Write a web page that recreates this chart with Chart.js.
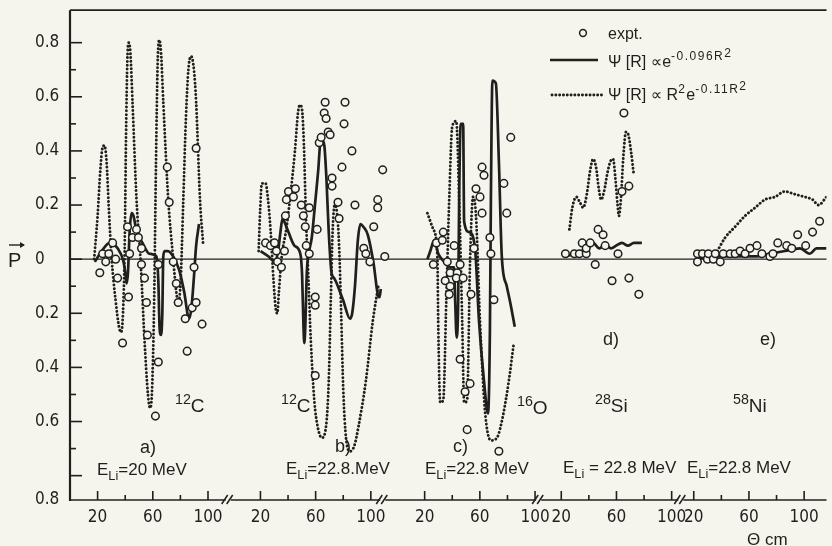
<!DOCTYPE html>
<html><head><meta charset="utf-8">
<script src="https://cdn.jsdelivr.net/npm/chart.js@4/dist/chart.umd.min.js"></script>
<style>html,body{margin:0;padding:0;background:#f5f5ee;}canvas{display:block;}</style>
</head><body>
<canvas id="c" width="832" height="546"></canvas>
<script>
// ---------- data (theta in degrees c.m., polarisation P) ----------
const panelOffsets = [0, 118, 237, 336, 432];      // panel a..e placed side by side on one axis
const breakPositions = [115, 227, 340, 443];       // axis breaks "//"
const xTickThetas = [20, 60, 100];
const xTickLabels = ['20', '60', '100'];
const xMinorThetas = [40, 80];
const yTickValues = [0.8, 0.6, 0.4, 0.2, 0, -0.2, -0.4, -0.6, -0.89];
const yTickLabels = ['0.8', '0.6', '0.4', '0.2', '0', '0.2', '0.4', '0.6', '0.8'];
const yMarkValues = [0.8, 0.7, 0.6, 0.5, 0.4, 0.3, 0.2, 0.1, 0, -0.1, -0.2, -0.3, -0.4, -0.5, -0.6, -0.7, -0.8];

// a) 12C, E = 20 MeV
const aExpt = [[21.6,-0.05],[23.7,0.02],[25.9,-0.01],[28.1,0.02],[30.9,0.06],[33.1,0.00],[34.5,-0.07],[38.1,-0.31],[41.7,0.12],[43.2,0.02],[42.4,-0.14],[45.3,0.08],[48.2,0.11],[49.6,0.08],[51.8,0.04],[51.8,-0.02],[54.0,-0.07],[55.4,-0.16],[56.1,-0.28],[61.9,-0.58],[64.0,-0.38],[64.0,-0.02],[70.5,0.34],[71.9,0.21],[74.8,-0.01],[77.0,-0.09],[78.4,-0.16],[83.5,-0.22],[84.9,-0.34],[88.5,-0.18],[89.9,-0.03],[91.4,0.41],[91.4,-0.16],[95.7,-0.24]];
const aSolid = [[18.0,-0.01],[23.0,0.03],[28.8,0.06],[34.5,0.04],[38.8,-0.01],[40.3,-0.06],[41.0,-0.09],[42.0,-0.05],[43.2,0.10],[44.6,0.17],[46.0,0.16],[48.0,0.11],[52.5,0.06],[57.6,0.02],[62.6,0.01],[64.0,-0.08],[64.9,-0.25],[65.9,-0.28],[66.9,-0.20],[67.6,0.01],[68.6,0.03],[71.0,0.03],[74.8,0.01],[79.1,-0.04],[82.7,-0.12],[86.3,-0.22],[88.0,-0.18],[89.9,-0.06],[91.4,0.05],[93.5,0.13]];
const aDotted = [[17.5,0.0],[20.0,0.16],[22.0,0.33],[23.5,0.41],[25.0,0.42],[26.5,0.36],[28.0,0.20],[30.2,0.0],[33.0,-0.15],[35.5,-0.25],[37.0,-0.27],[38.4,-0.20],[39.6,0.03],[40.6,0.45],[41.6,0.74],[42.6,0.80],[43.8,0.76],[45.3,0.58],[48.2,0.22],[51.1,0.0],[54.0,-0.30],[56.5,-0.50],[58.0,-0.55],[59.5,-0.48],[61.0,-0.15],[62.3,0.35],[63.5,0.72],[64.7,0.81],[66.0,0.76],[67.6,0.58],[71.2,0.22],[74.8,0.0],[77.0,-0.12],[78.6,-0.16],[80.2,-0.08],[82.0,0.20],[84.0,0.52],[85.8,0.70],[87.8,0.75],[89.8,0.70],[91.4,0.58],[94.2,0.22],[96.4,0.06]];

// b) 12C, E = 22.8 MeV
const bExpt = [[23.7,0.06],[27.3,0.05],[30.2,0.06],[31.6,0.03],[32.4,-0.01],[35.2,-0.03],[37.4,0.03],[38.1,0.16],[38.8,0.22],[40.3,0.25],[43.9,0.23],[45.3,0.26],[49.6,0.20],[51.1,0.16],[52.5,0.12],[53.2,0.05],[55.4,0.19],[55.4,0.02],[59.7,-0.14],[59.7,-0.17],[61.1,0.11],[59.7,-0.43],[62.6,0.43],[64.0,0.45],[66.9,0.58],[66.2,0.54],[67.6,0.52],[69.1,0.47],[70.5,0.46],[71.9,0.30],[71.9,0.27],[76.2,0.21],[77.0,0.15],[81.3,0.58],[80.6,0.50],[86.3,0.40],[79.1,0.34],[88.5,0.20],[94.9,0.04],[96.4,0.02],[99.3,-0.01],[102.1,0.12],[105.0,0.22],[105.0,0.19],[108.6,0.33],[110.1,0.01]];
const bSolid = [[20.1,0.03],[25.9,0.01],[30.5,-0.01],[32.8,0.03],[34.5,0.10],[36.0,0.15],[38.0,0.13],[40.3,0.10],[44.6,0.05],[48.9,0.02],[50.2,-0.06],[51.2,-0.25],[51.8,-0.31],[52.5,-0.25],[53.6,-0.05],[55.0,0.02],[57.2,0.08],[59.5,0.20],[61.9,0.33],[63.4,0.43],[64.8,0.44],[66.3,0.42],[67.8,0.30],[69.5,0.10],[71.5,-0.05],[73.4,-0.07],[79.8,-0.15],[84.9,-0.22],[86.5,-0.20],[88.5,-0.10],[90.6,0.07],[92.5,0.13],[94.5,0.12],[97.8,0.09],[102.1,-0.02],[105.0,-0.13],[106.3,-0.14],[107.2,-0.11]];
const bDotted = [[18.7,0.03],[19.8,0.18],[21.0,0.28],[23.7,0.28],[25.5,0.22],[27.3,0.11],[29.5,-0.08],[31.0,-0.18],[32.2,-0.20],[33.4,-0.12],[35.2,0.0],[39.0,0.12],[42.0,0.25],[45.0,0.40],[47.2,0.54],[48.7,0.57],[50.2,0.55],[51.5,0.42],[53.0,0.15],[54.6,-0.05],[56.5,-0.30],[59.0,-0.52],[61.5,-0.62],[64.5,-0.66],[67.5,-0.62],[69.5,-0.45],[71.0,-0.15],[72.3,0.10],[73.8,0.20],[75.5,0.17],[77.0,0.05],[78.5,-0.20],[80.0,-0.48],[82.0,-0.66],[85.0,-0.71],[88.0,-0.69],[91.0,-0.62],[96.4,-0.45],[101.4,-0.23],[105.7,-0.09]];

// c) 16O, E = 22.8 MeV
const cExpt = [[26.3,-0.02],[28.5,0.06],[33.5,0.10],[32.8,0.07],[36.4,-0.01],[34.9,-0.08],[38.5,-0.05],[38.5,-0.10],[37.8,-0.13],[41.4,0.05],[43.6,-0.05],[42.9,-0.07],[45.7,-0.02],[47.9,-0.07],[45.7,-0.37],[49.3,-0.49],[52.9,-0.46],[53.6,-0.13],[50.8,-0.63],[55.8,0.04],[57.2,0.26],[60.1,0.23],[61.6,0.17],[61.6,0.34],[63.0,0.31],[67.3,0.08],[68.0,0.02],[70.2,-0.15],[73.8,-0.71],[77.4,0.28],[79.5,0.17],[82.4,0.45]];
const cSolid = [[22.0,0.0],[24.1,0.03],[27.0,0.07],[29.9,0.02],[34.2,-0.01],[38.5,-0.03],[41.4,-0.03],[42.1,-0.15],[43.2,-0.29],[44.3,-0.15],[45.0,0.22],[46.1,0.50],[47.9,0.50],[48.6,0.14],[52.2,0.10],[56.5,0.04],[59.4,-0.23],[63.0,-0.45],[65.9,-0.57],[67.3,-0.26],[68.0,0.22],[69.1,0.66],[71.6,0.65],[73.8,0.36],[75.9,0.01],[79.5,-0.10],[82.4,-0.17],[85.3,-0.25]];
const cDotted = [[22.0,0.17],[26.3,0.11],[29.2,0.01],[29.9,-0.26],[31.3,-0.53],[33.5,-0.52],[35.7,-0.15],[37.8,0.22],[40.0,0.49],[42.9,0.51],[45.0,0.22],[47.2,-0.23],[48.6,-0.53],[50.8,-0.52],[52.9,-0.01],[55.1,0.23],[57.2,0.16],[60.1,-0.23],[63.7,-0.56],[68.0,-0.67],[72.4,-0.66],[76.7,-0.58],[81.0,-0.45],[84.6,-0.31]];

// d) 28Si, E = 22.8 MeV
const dExpt = [[23.0,0.02],[29.5,0.02],[33.1,0.02],[35.2,0.06],[38.1,0.02],[38.1,0.04],[41.0,0.06],[44.6,-0.02],[46.7,0.11],[50.3,0.09],[51.8,0.05],[61.1,0.02],[56.8,-0.08],[64.0,0.25],[69.0,0.27],[69.0,-0.07],[76.2,-0.13],[65.4,0.54]];
const dSolid = [[23.7,0.01],[29.5,0.02],[34.5,0.03],[39.5,0.04],[43.1,0.06],[47.5,0.04],[51.8,0.05],[56.1,0.04],[59.7,0.05],[64.0,0.06],[68.3,0.05],[72.6,0.06],[78.4,0.06]];
const dDotted = [[25.9,0.11],[28.0,0.19],[30.9,0.23],[33.5,0.21],[35.9,0.19],[38.5,0.24],[41.0,0.33],[43.1,0.37],[45.2,0.34],[47.2,0.26],[48.9,0.22],[51.0,0.25],[53.5,0.32],[55.5,0.36],[57.5,0.37],[59.2,0.30],[60.8,0.20],[61.8,0.16],[63.2,0.22],[65.0,0.38],[66.9,0.47],[68.6,0.46],[70.5,0.40],[72.6,0.31]];

// e) 58Ni, E = 22.8 MeV
const eExpt = [[22.7,0.02],[22.7,-0.01],[26.3,0.02],[29.9,0.00],[30.6,0.02],[34.2,0.00],[35.6,0.02],[39.2,-0.01],[41.4,0.02],[46.4,0.02],[50.0,0.02],[53.6,0.03],[57.2,0.02],[60.8,0.04],[65.8,0.05],[69.4,0.02],[75.2,0.01],[77.4,0.02],[80.9,0.06],[87.4,0.05],[91.0,0.04],[95.3,0.09],[101.1,0.05],[106.1,0.10],[111.2,0.14]];
const eSolid = [[21.2,0.0],[35.6,0.01],[50.0,0.01],[64.4,0.01],[75.2,0.02],[86.0,0.03],[96.8,0.04],[104.0,0.02],[109.0,0.04],[116.2,0.04]];
const eDotted = [[37.1,0.03],[42.8,0.08],[50.0,0.12],[57.2,0.16],[64.4,0.19],[71.6,0.22],[78.8,0.23],[86.0,0.25],[93.2,0.24],[100.4,0.23],[106.1,0.22],[110.4,0.20],[116.2,0.23]];

// ---------- styling ----------
const INK = '#1f1f1d';
const PAPER = '#f5f5ee';
const NARROW = "'Liberation Sans Narrow','DejaVu Sans Condensed','Liberation Sans',sans-serif";
const SANS = "'Liberation Sans','DejaVu Sans',sans-serif";
const DOT_DASH = [0.1, 3.7];

const panels = [
  [aExpt, aSolid, aDotted], [bExpt, bSolid, bDotted], [cExpt, cSolid, cDotted],
  [dExpt, dSolid, dDotted], [eExpt, eSolid, eDotted]
];
const pts = (arr, off) => arr.map(p => ({x: p[0] + off, y: p[1]}));

const datasets = [];
panels.forEach((p, i) => {
  const off = panelOffsets[i];
  datasets.push({data: pts(p[2], off), borderColor: INK, borderWidth: 2.9, borderDash: DOT_DASH,
    borderCapStyle: 'round', pointRadius: 0, cubicInterpolationMode: 'monotone', fill: false, order: 3});
  datasets.push({data: pts(p[1], off), borderColor: INK, borderWidth: 2.7, pointRadius: 0,
    cubicInterpolationMode: 'monotone', fill: false, order: 2});
  datasets.push({data: pts(p[0], off), showLine: false, pointRadius: 3.8, pointBorderWidth: 1.5,
    pointBorderColor: INK, pointBackgroundColor: PAPER, order: 1});
});

const xTickPositions = [];
const xTickText = [];
panelOffsets.forEach(off => xTickThetas.forEach((t, j) => { xTickPositions.push(off + t); xTickText.push(xTickLabels[j]); }));

function rich(ctx, x, y, parts, size, family, spacing) {
  let cx = x;
  for (const [t, lvl] of parts) {
    let fs = size, dy = 0;
    if (lvl === 1) { fs = size * 0.75; dy = -size * 0.42; }
    else if (lvl === 2) { fs = size * 0.75; dy = -size * 0.6; }
    else if (lvl === -1) { fs = size * 0.75; dy = size * 0.3; }
    ctx.font = fs + 'px ' + family;
    ctx.letterSpacing = (lvl > 0 && spacing) ? spacing : '0px';
    ctx.fillText(t, cx, y + dy);
    cx += ctx.measureText(t).width;
  }
  ctx.letterSpacing = '0px';
  return cx;
}

const decor = {
  id: 'decor',
  beforeDraw(chart) {
    const {ctx} = chart;
    ctx.save(); ctx.fillStyle = PAPER; ctx.fillRect(0, 0, chart.width, chart.height); ctx.restore();
  },
  beforeDatasetsDraw(chart) {
    const {ctx, chartArea: a, scales: {x, y}} = chart;
    const ln = (x1, y1, x2, y2) => { ctx.beginPath(); ctx.moveTo(x1, y1); ctx.lineTo(x2, y2); ctx.stroke(); };
    ctx.save();
    ctx.strokeStyle = INK;
    ctx.lineWidth = 1.3;
    const y0 = y.getPixelForValue(0);
    ln(a.left, y0, a.right, y0);
    ctx.lineWidth = 1.7;
    ln(a.left, a.top, a.right, a.top);
    ln(a.left, a.bottom, a.right, a.bottom);
    ctx.lineWidth = 2.2;
    ln(a.left, a.top, a.left, a.bottom + 1);
    ctx.lineWidth = 1.6;
    yMarkValues.forEach(v => {
      const py = y.getPixelForValue(v);
      const major = Math.round(Math.abs(v) * 10) % 2 === 0;
      ln(a.left, py, a.left + (major ? 12 : 6), py);
    });
    panelOffsets.forEach(off => {
      xTickThetas.forEach(t => { const px = x.getPixelForValue(off + t); ln(px, a.bottom, px, a.bottom - 9); });
      xMinorThetas.forEach(t => { const px = x.getPixelForValue(off + t); ln(px, a.bottom, px, a.bottom - 5); });
    });
    breakPositions.forEach(u => {
      const px = x.getPixelForValue(u);
      ctx.fillStyle = PAPER; ctx.fillRect(px - 3, a.bottom - 2, 5, 4);
      ctx.lineWidth = 1.5;
      ln(px - 7, a.bottom + 4, px - 1, a.bottom - 5);
      ln(px - 2, a.bottom + 4, px + 4, a.bottom - 5);
    });
    ctx.restore();
  },
  afterDraw(chart) {
    const {ctx} = chart;
    ctx.save();
    ctx.fillStyle = INK; ctx.strokeStyle = INK;
    ctx.textAlign = 'left'; ctx.textBaseline = 'alphabetic';
    // y-axis title P with vector arrow
    ctx.font = '20px ' + SANS;
    ctx.fillText('P', 8, 267);
    ctx.lineWidth = 1.4;
    ctx.beginPath(); ctx.moveTo(9, 245); ctx.lineTo(24, 245); ctx.stroke();
    ctx.beginPath(); ctx.moveTo(25, 245); ctx.lineTo(20, 242); ctx.lineTo(20, 248); ctx.closePath(); ctx.fill();
    // x-axis title
    ctx.font = '17px ' + SANS;
    ctx.fillText('\u0398 cm', 747, 545);
    // panel labels
    const notes = [
      [175, 412, [['12', 1], ['C', 0]], 19],
      [140, 453, [['a)', 0]], 18],
      [97, 475, [['E', 0], ['Li', -1], ['=20 MeV', 0]], 17],
      [281, 412, [['12', 1], ['C', 0]], 19],
      [335, 452, [['b)', 0]], 18],
      [286, 474, [['E', 0], ['Li', -1], ['=22.8.MeV', 0]], 17],
      [453, 452, [['c)', 0]], 18],
      [517, 414, [['16', 1], ['O', 0]], 19],
      [425, 474, [['E', 0], ['Li', -1], ['=22.8 MeV', 0]], 17],
      [603, 345, [['d)', 0]], 18],
      [595, 412, [['28', 1], ['Si', 0]], 19],
      [563, 473, [['E', 0], ['Li', -1], [' = 22.8 MeV', 0]], 17],
      [760, 345, [['e)', 0]], 18],
      [733, 412, [['58', 1], ['Ni', 0]], 19],
      [687, 473, [['E', 0], ['Li', -1], ['=22.8 MeV', 0]], 17]
    ];
    notes.forEach(n => rich(ctx, n[0], n[1], n[2], n[3], SANS));
    // legend
    ctx.lineWidth = 1.5;
    ctx.beginPath(); ctx.arc(583, 33, 3.4, 0, Math.PI * 2); ctx.stroke();
    ctx.font = '16px ' + SANS;
    ctx.fillText('expt.', 608, 39);
    ctx.lineWidth = 2.7;
    ctx.beginPath(); ctx.moveTo(550, 60); ctx.lineTo(598, 60); ctx.stroke();
    rich(ctx, 608, 67, [['\u03A8 [R] \u221De', 0], ['-0.096R', 1], ['2', 2]], 16, SANS, '1.5px');
    ctx.lineWidth = 2.9; ctx.lineCap = 'round'; ctx.setLineDash(DOT_DASH);
    ctx.beginPath(); ctx.moveTo(552, 95); ctx.lineTo(605, 95); ctx.stroke();
    ctx.setLineDash([]);
    rich(ctx, 608, 100, [['\u03A8 [R] \u221D R', 0], ['2', 1], ['e', 0], ['-0.11R', 1], ['2', 2]], 16, SANS, '1.5px');
    ctx.restore();
  }
};

new Chart(document.getElementById('c'), {
  type: 'line',
  data: {datasets},
  options: {
    responsive: false, animation: false, devicePixelRatio: 1, events: [],
    layout: {padding: {left: 35, top: 9, right: 0, bottom: 0}},
    plugins: {legend: {display: false}, tooltip: {enabled: false}},
    scales: {
      x: {
        type: 'linear', min: 0, max: 548.2,
        grid: {display: false, drawTicks: false}, border: {display: false},
        afterBuildTicks: s => { s.ticks = xTickPositions.map(v => ({value: v})); },
        afterFit: s => { s.height = 46; },
        ticks: {autoSkip: false, maxRotation: 0, padding: 7, color: INK,
          font: {family: NARROW, size: 17}, callback: (v, i) => xTickText[i]}
      },
      y: {
        type: 'linear', min: -0.89, max: 0.92,
        grid: {display: false, drawTicks: false}, border: {display: false},
        afterBuildTicks: s => { s.ticks = yTickValues.map(v => ({value: v})); },
        afterFit: s => { s.width = 35; },
        ticks: {crossAlign: 'far', padding: 0, color: INK,
          font: {family: NARROW, size: 17}, callback: (v, i) => yTickLabels[i]}
      }
    }
  },
  plugins: [decor]
});
</script>
</body></html>
